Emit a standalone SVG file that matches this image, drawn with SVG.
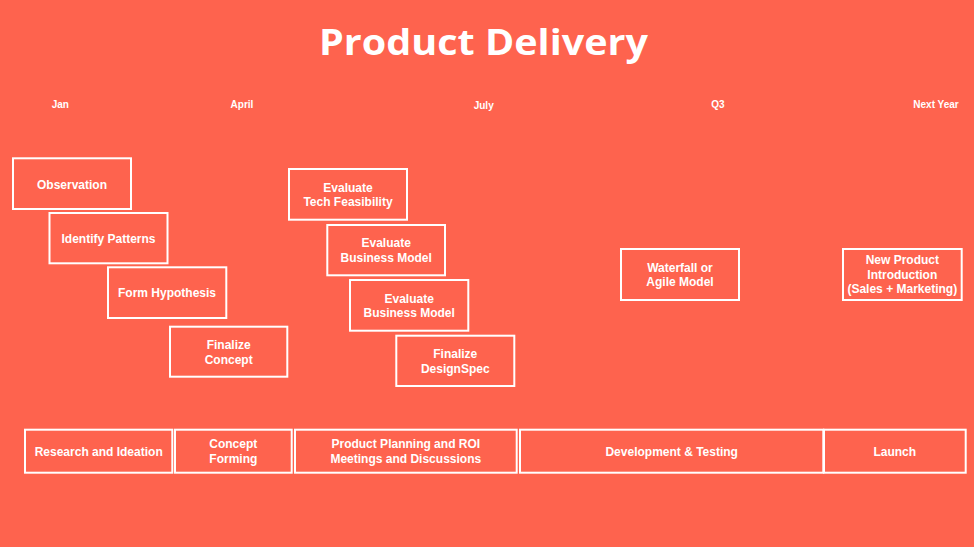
<svg xmlns="http://www.w3.org/2000/svg" width="974" height="547" viewBox="0 0 974 547">
  <style>
    .box { fill: none; stroke: #ffffff; stroke-width: 2; }
    .lbl { fill: #ffffff; font-family: "Liberation Sans", Arial, Helvetica, sans-serif; font-weight: bold; font-size: 12px; text-anchor: middle; }
    .mon { fill: #ffffff; font-family: "Liberation Sans", Arial, Helvetica, sans-serif; font-weight: bold; font-size: 10px; text-anchor: middle; }
    .title { fill: #ffffff; font-family: "Open Sans", Lato, sans-serif; font-weight: bold; font-size: 36px; text-anchor: middle; }
  </style>

  <rect x="0" y="0" width="974" height="547" fill="#FE634E"/>

  <text class="title" x="483.5" y="54.7" textLength="329" lengthAdjust="spacingAndGlyphs">Product Delivery</text>

  <!-- timeline markers -->
  <g id="months">
    <text class="mon" x="60.3" y="108.3">Jan</text>
    <text class="mon" x="242" y="108.3">April</text>
    <text class="mon" x="483.7" y="108.7">July</text>
    <text class="mon" x="718" y="107.7">Q3</text>
    <text class="mon" x="936" y="107.7">Next Year</text>
  </g>

  <!-- research steps -->
  <g id="observation">
    <rect class="box" x="13" y="158.3" width="118" height="50.7"/>
    <text class="lbl" x="72" y="188.5">Observation</text>
  </g>
  <g id="identify-patterns">
    <rect class="box" x="49.5" y="213" width="118" height="50.3"/>
    <text class="lbl" x="108.5" y="242.6">Identify Patterns</text>
  </g>
  <g id="form-hypothesis">
    <rect class="box" x="108" y="267.3" width="118.3" height="50.7"/>
    <text class="lbl" x="167" y="297.2">Form Hypothesis</text>
  </g>
  <g id="finalize-concept">
    <rect class="box" x="170" y="326.7" width="117.3" height="50"/>
    <text class="lbl" x="228.7" y="349.3">Finalize</text>
    <text class="lbl" x="228.7" y="364">Concept</text>
  </g>

  <!-- planning steps -->
  <g id="eval-tech">
    <rect class="box" x="289" y="169" width="118" height="50.7"/>
    <text class="lbl" x="348" y="191.5">Evaluate</text>
    <text class="lbl" x="348" y="206.2">Tech Feasibility</text>
  </g>
  <g id="eval-business-1">
    <rect class="box" x="327.3" y="225" width="117.7" height="50.3"/>
    <text class="lbl" x="386.2" y="247">Evaluate</text>
    <text class="lbl" x="386.2" y="261.7">Business Model</text>
  </g>
  <g id="eval-business-2">
    <rect class="box" x="350" y="280" width="118.3" height="50.7"/>
    <text class="lbl" x="409.2" y="302.5">Evaluate</text>
    <text class="lbl" x="409.2" y="317.2">Business Model</text>
  </g>
  <g id="finalize-designspec">
    <rect class="box" x="396.3" y="335.7" width="118" height="50.3"/>
    <text class="lbl" x="455.3" y="358">Finalize</text>
    <text class="lbl" x="455.3" y="372.7">DesignSpec</text>
  </g>

  <g id="waterfall">
    <rect class="box" x="621" y="249" width="118" height="51"/>
    <text class="lbl" x="680" y="271.5">Waterfall or</text>
    <text class="lbl" x="680" y="286.2">Agile Model</text>
  </g>
  <g id="new-product">
    <rect class="box" x="843" y="249" width="118.7" height="51"/>
    <text class="lbl" x="902.3" y="264">New Product</text>
    <text class="lbl" x="902.3" y="278.7">Introduction</text>
    <text class="lbl" x="902.3" y="293.4">(Sales + Marketing)</text>
  </g>

  <!-- phase bar -->
  <g id="phase-research">
    <rect class="box" x="25" y="429.7" width="147.3" height="43"/>
    <text class="lbl" x="98.7" y="455.5">Research and Ideation</text>
  </g>
  <g id="phase-concept">
    <rect class="box" x="175" y="429.7" width="116.7" height="43"/>
    <text class="lbl" x="233.3" y="448.3">Concept</text>
    <text class="lbl" x="233.3" y="463">Forming</text>
  </g>
  <g id="phase-planning">
    <rect class="box" x="295" y="429.7" width="221.7" height="43"/>
    <text class="lbl" x="405.8" y="448.3">Product Planning and ROI</text>
    <text class="lbl" x="405.8" y="463">Meetings and Discussions</text>
  </g>
  <g id="phase-development">
    <rect class="box" x="520" y="429.7" width="303.3" height="43"/>
    <text class="lbl" x="671.7" y="455.5">Development &amp; Testing</text>
  </g>
  <g id="phase-launch">
    <rect class="box" x="824" y="429.7" width="141.7" height="43"/>
    <text class="lbl" x="894.8" y="455.5">Launch</text>
  </g>

  <g id="connectors"></g>
</svg>
